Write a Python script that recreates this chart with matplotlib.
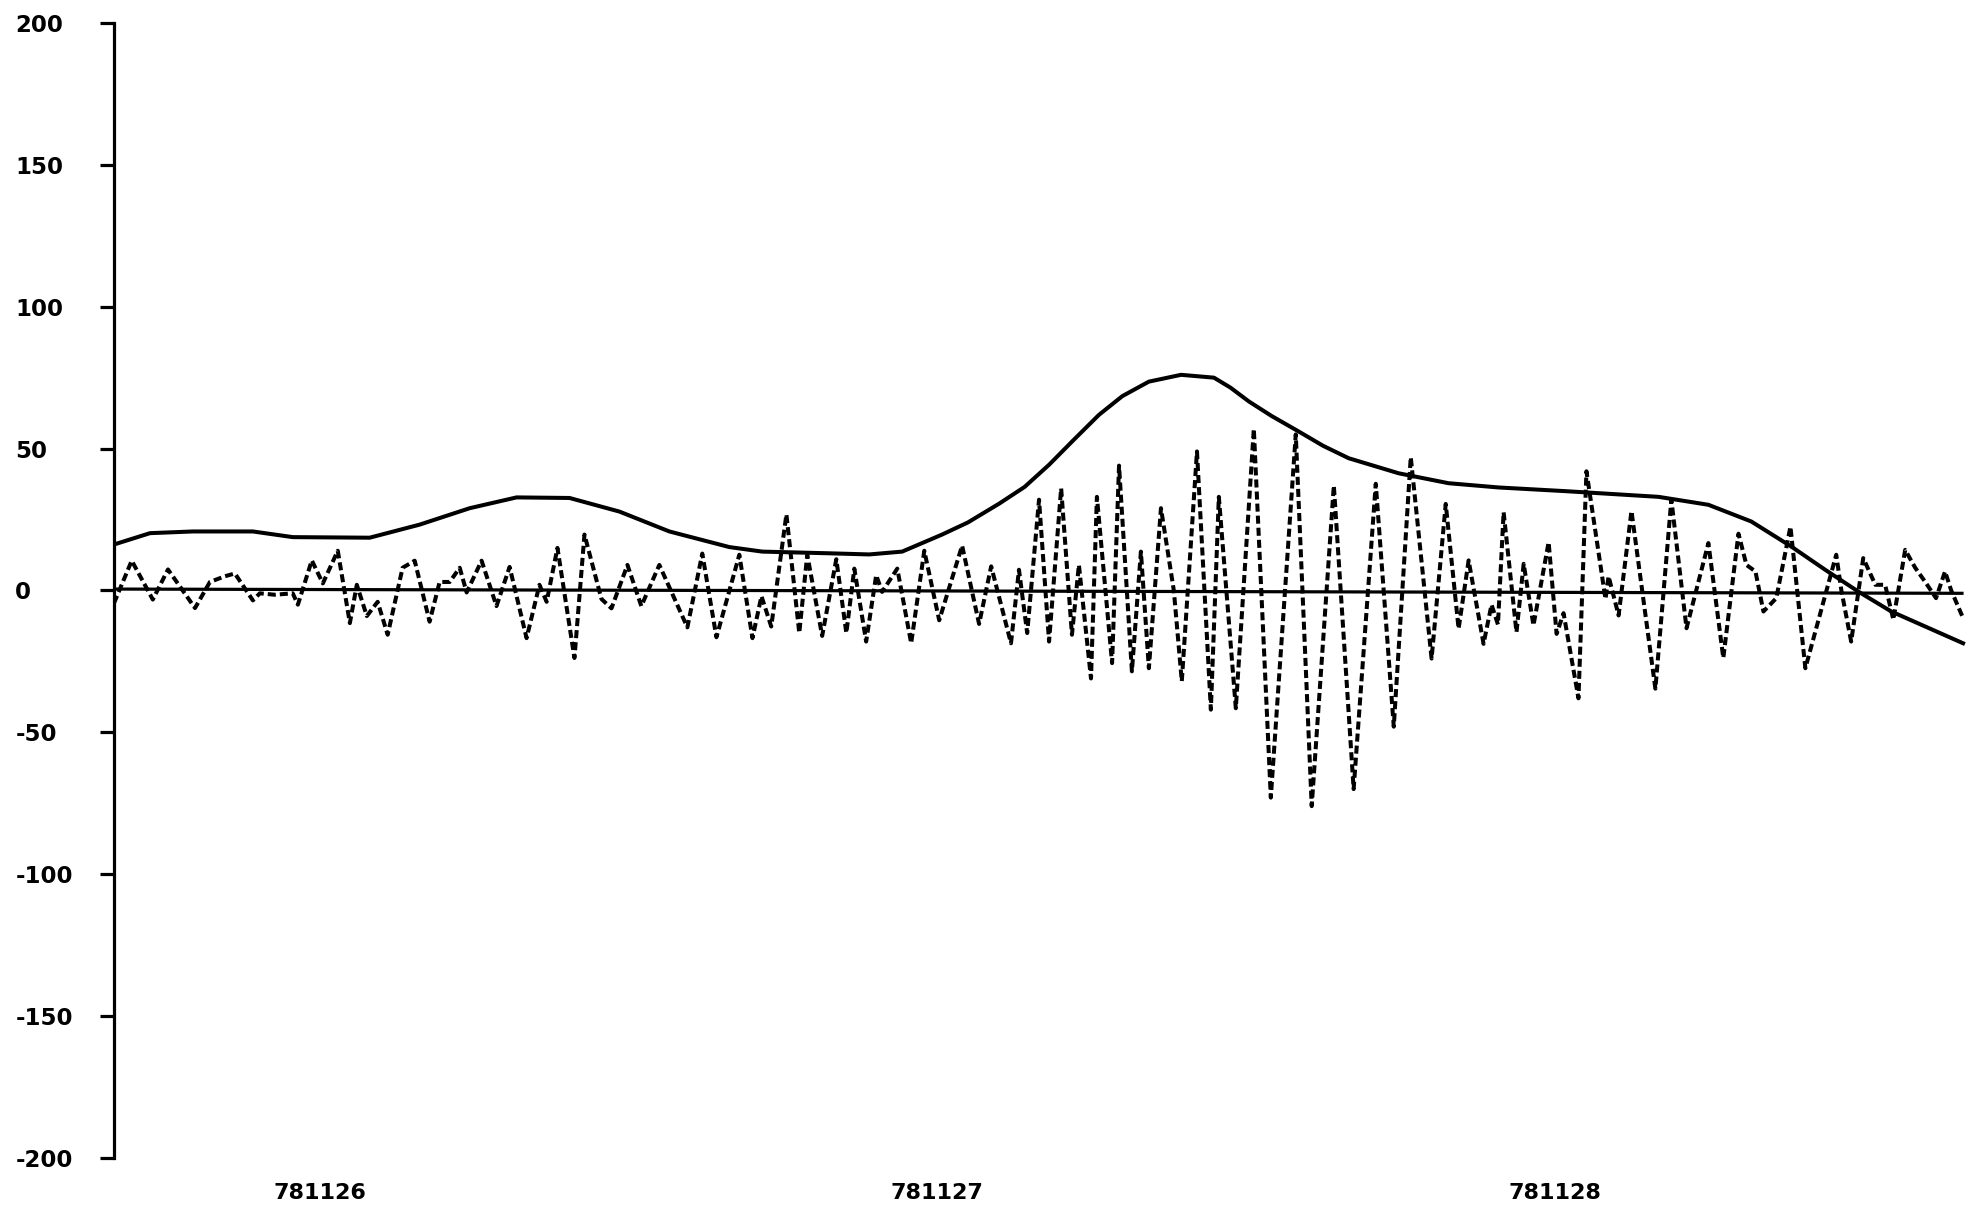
import matplotlib
matplotlib.use("Agg")
import matplotlib.pyplot as plt

# ---- data (x in hours from start of 781126 00:00) ----
date_labels = ["781126", "781127", "781128"]
date_ticks = [12, 36, 60]
y_ticks = [-200, -150, -100, -50, 0, 50, 100, 150, 200]

env_x = [4.0, 5.4, 7.07, 9.4, 10.95, 13.94, 15.88, 17.83, 19.65, 21.71, 23.65,
         25.59, 27.92, 29.2, 31.81, 33.36, 34.64, 36.19, 37.2, 38.41, 39.4, 40.35,
         41.3, 42.29, 43.2, 44.23, 45.48, 46.76, 47.4, 48.12, 49.0, 50.06, 51.0,
         52.0, 53.94, 55.88, 57.83, 60.43, 64.04, 65.98, 67.65, 69.2, 70.52,
         71.81, 73.09, 74.41, 75.88]
env_y = [16.2, 20.2, 20.8, 20.8, 18.8, 18.6, 23.2, 29.0, 32.8, 32.6, 27.8,
         20.8, 15.3, 13.7, 13.1, 12.7, 13.7, 19.7, 24.0, 30.6, 36.5, 44.3,
         53.0, 61.9, 68.5, 73.6, 76.0, 75.0, 71.5, 66.6, 61.5, 56.0, 51.0,
         46.6, 41.3, 37.8, 36.3, 35.0, 33.0, 30.2, 24.3, 15.5, 7.3,
         -0.4, -7.4, -12.7, -18.6]

osc_x = [4.0, 4.69, 5.51, 6.1, 7.15, 7.73, 8.31, 8.7, 9.4, 9.67, 10.25, 10.95,
         11.15, 11.69, 12.12, 12.7, 13.17, 13.44, 13.83, 14.25, 14.64, 15.22,
         15.69, 16.27, 16.66, 17.05, 17.44, 17.71, 18.29, 18.87, 19.38, 20.04,
         20.54, 20.82, 21.24, 21.9, 22.29, 22.95, 23.34, 23.96, 24.5, 25.2,
         26.29, 26.87, 27.42, 28.31, 28.82, 29.17, 29.55, 30.14, 30.64, 30.95,
         31.53, 32.08, 32.47, 32.78, 33.24, 33.63, 33.86, 34.45, 34.99, 35.5,
         36.08, 36.97, 37.63, 38.1, 38.87, 39.18, 39.5, 39.96, 40.35, 40.82,
         41.24, 41.51, 41.98, 42.21, 42.8, 43.07, 43.57, 43.92, 44.23, 44.7,
         45.2, 45.51, 46.1, 46.64, 46.95, 47.61, 48.31, 48.97, 49.94, 50.56,
         51.42, 52.19, 53.05, 53.75, 54.41, 55.22, 55.77, 56.27, 56.66, 57.24,
         57.55, 57.8, 58.02, 58.52, 58.8, 59.18, 59.77, 60.08, 60.35, 60.93,
         61.24, 61.98, 62.1, 62.49, 62.99, 63.92, 64.54, 65.13, 65.98, 66.56,
         67.15, 67.46, 67.81, 68.12, 68.62, 69.17, 69.75, 70.95, 71.15, 71.53,
         72.0, 72.47, 72.85, 73.17, 73.63, 74.02, 74.41, 74.83, 75.18, 75.42,
         75.88]
osc_y = [-4.5, 10.5, -3.2, 7.4, -6.2, 3.0, 5.0, 6.0, -3.5, -1.0, -1.5, -1.0,
         -5.0, 10.6, 2.5, 14.0, -11.5, 2.0, -9.0, -4.0, -15.6, 8.0,
         10.5, -11.0, 3.0, 3.0, 8.0, -0.7, 10.5, -5.5, 8.3, -16.8,
         2.0, -4.0, 15.0, -23.8, 19.7, -3.0, -6.3, 9.0, -5.5, 9.0,
         -13.0, 13.0, -16.5, 12.6, -16.8, -2.0, -12.7, 26.8, -15.0, 12.6,
         -16.0, 11.0, -15.0, 7.7, -18.0, 5.4, -0.5, 7.7, -18.6, 14.0,
         -10.5, 15.8, -11.8, 8.5, -18.6, 7.3, -15.0, 32.0, -18.0, 36.0,
         -15.6, 9.0, -31.0, 33.0, -25.6, 44.0, -28.5, 13.7, -27.4, 29.0,
         0.0, -32.0, 49.0, -42.0, 33.0, -41.5, 57.0, -73.0, 55.0, -76.0,
         37.0, -70.0, 37.6, -48.0, 47.0, -24.0, 30.5, -13.5, 10.6, -18.8,
         -5.0, -12.0, 27.6, -14.7, 9.4, -12.3, 17.0, -15.3, -8.0, -38.0,
         42.0, -3.0, 5.0, -8.8, 28.0, -34.6, 32.0, -13.3, 16.7, -23.8,
         20.0, 9.0, 6.7, -7.4, -2.7, 22.5, -27.4, 12.6, 0.0, -18.0,
         11.4, 2.0, 2.0, -10.3, 14.3, 8.0, 3.0, -2.7, 6.7, 0.0,
         -9.7]

base_x = [4.0, 75.9]
base_y = [0.5, -1.0]

# ---- figure ----
fig = plt.figure(figsize=(19.82, 12.09), dpi=100)
ax = fig.add_axes([0.0575, 0.0422, 0.9345, 0.9388])

ax.plot(base_x, base_y, color="black", lw=2.3, solid_capstyle="butt")
ax.plot(env_x, env_y, color="black", lw=2.9, solid_joinstyle="round")
ax.plot(osc_x, osc_y, color="black", lw=2.9, linestyle=(0, (2.0, 1.0)))

ax.set_xlim(4.0, 76.0)
ax.set_ylim(-200, 200)

for side in ["top", "right", "bottom"]:
    ax.spines[side].set_visible(False)
ax.spines["left"].set_linewidth(2.3)

ax.set_yticks(y_ticks)
ax.set_yticklabels([str(v) for v in y_ticks])
ax.tick_params(axis="y", direction="out", length=10, width=2.3, pad=61)
for lab in ax.get_yticklabels():
    lab.set_horizontalalignment("left")
    lab.set_fontweight("bold")
    lab.set_fontsize(16.5)

ax.set_xticks(date_ticks)
ax.set_xticklabels(date_labels, fontsize=16, fontweight="bold")
ax.tick_params(axis="x", length=0, pad=18)

fig.savefig("out.png", dpi=100)
